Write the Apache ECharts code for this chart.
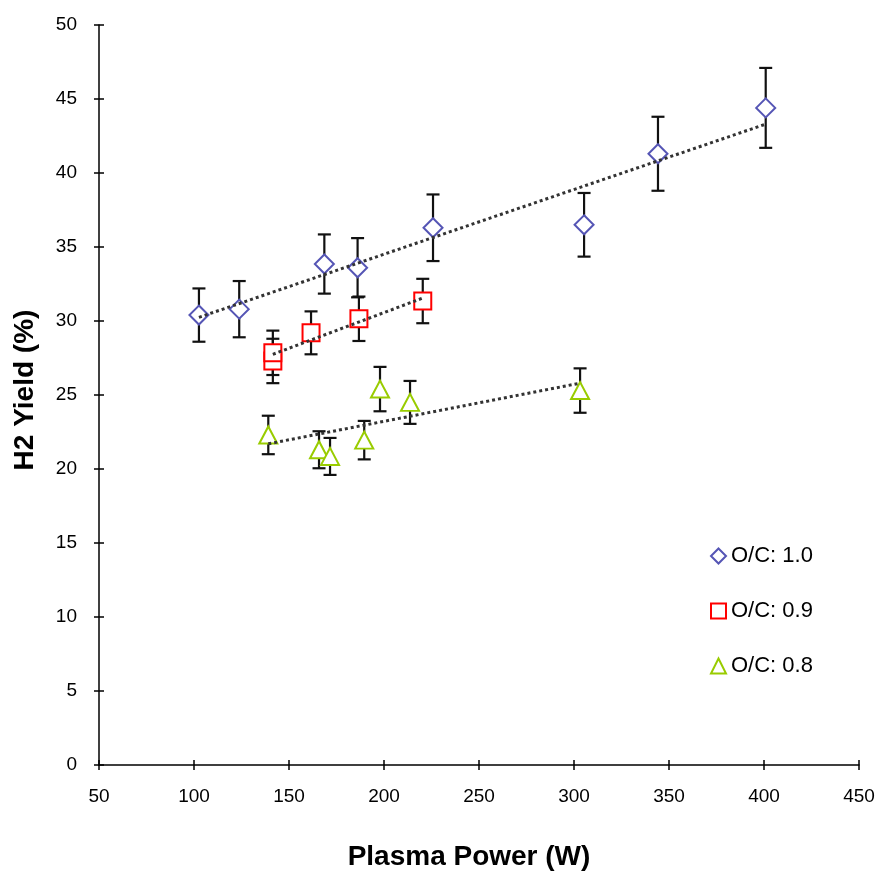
<!DOCTYPE html>
<html>
<head>
<meta charset="utf-8">
<script src="https://cdn.jsdelivr.net/npm/echarts@6/dist/echarts.min.js"></script>
<style>html,body{margin:0;padding:0;background:#fff}#c{width:882px;height:876px}</style>
</head>
<body>
<div id="c"></div>
<script>
// ---- data ----
const seriesNames = ['O/C: 1.0', 'O/C: 0.9', 'O/C: 0.8'];

const blueX   = [102.6, 123.8, 168.6, 186.1, 225.8, 305.3, 344.2, 400.9];
const blueY   = [30.4, 30.8, 33.85, 33.6, 36.3, 36.5, 41.3, 44.4];
const blueErr = [1.8, 1.9, 2.0, 2.0, 2.25, 2.15, 2.5, 2.7];

const redX   = [141.5, 141.5, 161.6, 186.8, 220.4];
const redY   = [27.3, 27.85, 29.2, 30.15, 31.35];
const redErr = [1.5, 1.5, 1.45, 1.5, 1.5];

const greenX   = [139.1, 165.8, 171.6, 189.6, 197.9, 213.7, 303.2];
const greenY   = [22.3, 21.3, 20.85, 21.95, 25.4, 24.5, 25.3];
const greenErr = [1.3, 1.25, 1.25, 1.3, 1.5, 1.45, 1.5];

// trend line endpoints (as drawn)
const blueTrendX  = [102.6, 400.9];
const blueTrendY  = [30.25, 43.3];
const redTrendX   = [141.5, 220.4];
const redTrendY   = [27.75, 31.55];
const greenTrendX = [139.1, 303.2];
const greenTrendY = [21.7, 25.8];

const xMin = 50, xMax = 450, xStep = 50;
const yMin = 0, yMax = 50, yStep = 5;

// ---- styles ----
const FONT = '"Liberation Sans", Arial, sans-serif';
const colors = ['#5555B5', '#FF0000', '#99CC00'];
const symbols = ['diamond', 'rect', 'triangle'];

function zip(xs, ys) { return xs.map((x, i) => [x, ys[i]]); }
function zip3(xs, ys, es) { return xs.map((x, i) => [x, ys[i], es[i]]); }

function errSeries(data) {
  return {
    type: 'custom',
    xAxisIndex: 0, yAxisIndex: 0,
    z: 2,
    silent: true,
    data: data,
    encode: { x: 0, y: 1 },
    renderItem: function (params, api) {
      const x = api.value(0), y = api.value(1), e = api.value(2);
      const top = api.coord([x, y + e]);
      const bot = api.coord([x, y - e]);
      const hw = 6.5;
      const st = { stroke: '#111', lineWidth: 2.2 };
      return {
        type: 'group',
        children: [
          { type: 'line', shape: { x1: top[0], y1: top[1], x2: bot[0], y2: bot[1] }, style: st },
          { type: 'line', shape: { x1: top[0] - hw, y1: top[1], x2: top[0] + hw, y2: top[1] }, style: st },
          { type: 'line', shape: { x1: bot[0] - hw, y1: bot[1], x2: bot[0] + hw, y2: bot[1] }, style: st }
        ]
      };
    }
  };
}

function scatterSeries(i, data) {
  return {
    name: seriesNames[i],
    type: 'scatter',
    z: 3,
    symbol: symbols[i],
    symbolSize: i === 0 ? [19, 19] : (i === 1 ? [17, 17] : [18, 17]),
    itemStyle: { color: '#fff', borderColor: colors[i], borderWidth: 2, opacity: 1 },
    data: data
  };
}

function trendSeries(data) {
  return {
    type: 'line',
    z: 4,
    silent: true,
    symbol: 'none',
    data: data,
    lineStyle: { color: '#333', width: 3, type: [3, 3] }
  };
}

const axisCommon = {
  axisLine: { show: true, lineStyle: { color: '#000', width: 1.5 } },
  axisTick: { show: true, length: 5, lineStyle: { color: '#000', width: 1.5 } },
  splitLine: { show: false }
};

const chart = echarts.init(document.getElementById('c'), null, { renderer: 'canvas' });
chart.setOption({
  animation: false,
  backgroundColor: '#fff',
  grid: { left: 99, right: 23, top: 25, bottom: 106, containLabel: false },
  legend: {
    orient: 'vertical',
    left: 710,
    top: 545,
    padding: 0,
    itemWidth: 15,
    itemHeight: 15,
    itemGap: 33,
    textStyle: { fontFamily: FONT, fontSize: 22, color: '#000' },
    data: seriesNames.map((n, i) => ({ name: n, icon: symbols[i] }))
  },
  xAxis: [
    Object.assign({}, axisCommon, {
      type: 'value', min: xMin, max: xMax, interval: xStep,
      name: 'Plasma Power (W)', nameLocation: 'middle', nameGap: 78,
      nameTextStyle: { fontFamily: FONT, fontSize: 28, fontWeight: 'bold', color: '#000', padding: [0, 20, 0, 0] },
      axisLabel: { fontFamily: FONT, fontSize: 19, color: '#000', margin: 22 }
    }),
    Object.assign({}, axisCommon, {
      type: 'value', min: xMin, max: xMax, interval: xStep, position: 'bottom',
      axisLine: { show: false },
      axisTick: { show: true, inside: true, length: 5, lineStyle: { color: '#000', width: 1.5 } },
      axisLabel: { show: false }
    })
  ],
  yAxis: [
    Object.assign({}, axisCommon, {
      type: 'value', min: yMin, max: yMax, interval: yStep,
      name: 'H2 Yield (%)', nameLocation: 'middle', nameGap: 60,
      nameTextStyle: { fontFamily: FONT, fontSize: 28, fontWeight: 'bold', color: '#000', padding: [0, 0, 0, 10] },
      axisLabel: { fontFamily: FONT, fontSize: 19, color: '#000', margin: 22 }
    }),
    Object.assign({}, axisCommon, {
      type: 'value', min: yMin, max: yMax, interval: yStep, position: 'left', offset: 0,
      axisLine: { show: false },
      axisTick: { show: true, inside: true, length: 5, lineStyle: { color: '#000', width: 1.5 } },
      axisLabel: { show: false }
    })
  ],
  series: [
    errSeries(zip3(blueX, blueY, blueErr)),
    errSeries(zip3(redX, redY, redErr)),
    errSeries(zip3(greenX, greenY, greenErr)),
    scatterSeries(0, zip(blueX, blueY)),
    scatterSeries(1, zip(redX, redY)),
    scatterSeries(2, zip(greenX, greenY)),
    trendSeries(zip(blueTrendX, blueTrendY)),
    trendSeries(zip(redTrendX, redTrendY)),
    trendSeries(zip(greenTrendX, greenTrendY))
  ]
});
</script>
</body>
</html>
